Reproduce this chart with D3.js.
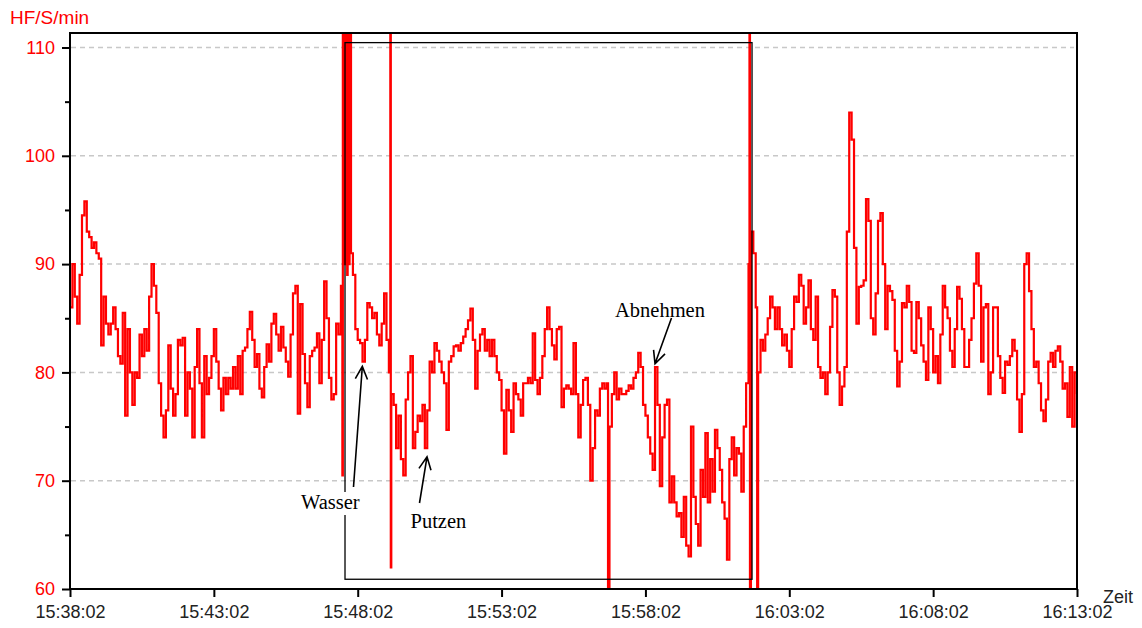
<!DOCTYPE html>
<html>
<head>
<meta charset="utf-8">
<script src="https://cdn.jsdelivr.net/npm/d3@7"></script>
<style>
  body { margin: 0; background: #fff; }
  svg { display: block; }
</style>
</head>
<body>
<svg id="chart" width="1142" height="628"></svg>
<script>
// Heart rate recording, one sample every 5 s starting 15:38:02
const startClock = [15, 38, 2];
const stepSeconds = 5;
const hf = [
  86, 90, 87, 84.5, 89, 94.5, 95.8, 93, 92.5, 91.5,
  92, 91, 90.5, 82.5, 87, 84.5, 83.5, 84.5, 86, 84,
  81.5, 80.8, 85.5, 76, 84, 80, 77, 80, 79.5, 83.5,
  81.5, 84, 82, 87, 90, 88, 85.5, 79, 76, 74,
  76.5, 82.5, 78.5, 76, 78, 83, 82.5, 83.2, 76, 80,
  78.5, 74, 80.5, 84, 79, 74, 81.5, 78, 79.5, 81.5,
  84, 81, 78.5, 76.5, 79.5, 78, 79.5, 78.5, 80.5, 78.5,
  81.5, 78, 82, 82.3, 84, 85.6, 83, 80.5, 81.7, 78.5,
  77.7, 80.5, 82.6, 81, 84.5, 85.4, 83.5, 82, 84.2, 82.3,
  81, 79.6, 83.5, 87.3, 88, 76.2, 86.3, 81.7, 79, 76.8,
  81.5, 82, 82.3, 83.6, 79, 83, 88.4, 85, 79.5, 77.5,
  78, 84.5, 83.5, 88, 90, 150, 91, 150, 89, 84,
  83, 82.7, 81, 83, 86.4, 86, 85, 85.5, 83.5, 82.5,
  84.5, 87.3, 83, 80, 78, 77, 73, 76, 72, 70.5,
  77.5, 80, 81.5, 73, 74.5, 76, 75.5, 77, 73, 76.5,
  81, 80, 82.7, 82, 81, 80, 79, 74.7, 81, 81.5,
  82.4, 82.5, 82, 82.7, 83.3, 84, 84.8, 85.9, 83, 78.5,
  82, 83.5, 84, 82, 83, 81.5, 83, 81.5, 80, 79.3,
  76.5, 72.5, 78.4, 76.5, 74.5, 79, 78, 77.5, 76, 79,
  79, 79.5, 79, 83.6, 79.3, 78, 79.5, 81.5, 84, 86,
  84, 82.5, 81.2, 84, 84.2, 76.8, 78.5, 78.8, 78.5, 78,
  82.7, 78, 74, 77, 79.3, 79.5, 77, 70, 73, 76.5,
  76, 78.5, 79, 78.5, 79, 75, 78, 80, 77.5, 78.5,
  78, 78, 78.3, 78.8, 78.5, 79.5, 80, 81.8, 80.5, 77,
  76, 74, 72.5, 71, 80.5, 77, 69.5, 74, 77, 77.5,
  68, 70.4, 68, 66.7, 67, 64.8, 68.5, 64, 63, 75,
  68.5, 66, 64, 71, 68.5, 74.4, 68, 72, 69, 74.7,
  73, 71, 68, 66.5, 62.7, 72, 74, 70.5, 73, 72.5,
  69, 75, 79, 90, 93, 91, 86, 80, 83, 82,
  83.5, 85, 87, 86, 84, 86, 84, 82.5, 83.5, 82,
  80.5, 84, 87, 86.5, 89, 88, 84.5, 86, 88.5, 84,
  83, 87, 80.5, 79.5, 80, 78, 80, 84.2, 87.6, 87,
  80, 77, 78.7, 80.5, 93, 104, 101.5, 91.5, 84.5, 87.9,
  88, 88.5, 96, 94, 85, 83.5, 87.3, 94, 94.7, 90,
  84, 88, 87.5, 86.7, 82, 78.7, 81, 86.4, 86, 88,
  86.5, 82, 81.8, 86.5, 85, 82.5, 81, 79.3, 86, 84,
  80, 81.5, 79, 83.5, 88, 86, 85, 82, 80.5, 84,
  87.9, 86.8, 84, 80.5, 80.5, 83, 85, 88.2, 91, 88,
  81, 86, 86.3, 78, 80, 86, 86, 81.5, 79.5, 78.1,
  81, 80.7, 81.5, 83, 82, 77.5, 74.5, 78, 90, 91,
  87.5, 84, 80.5, 81, 79, 76.5, 75.5, 77.5, 81, 81.8,
  80.5, 82, 82.4, 81, 78.5, 79, 75.9, 80.5, 75, 80,
  78
];

// Sensor dropouts / artefacts recorded between the regular samples (seconds from start, value)
const artifactSeconds = [568, 569, 571, 572, 573, 574, 576, 577, 578, 579, 581, 582, 583, 584, 586,
                         668, 669, 1122, 1417, 1418, 1432, 1433];
const artifactValues  = [70.5, 150, 150, 91, 150, 90, 92, 150, 89, 150, 150, 90, 150, 92, 91,
                         150, 62, 30, 150, 30, 86, 30];

const yTicks = [60, 70, 80, 90, 100, 110];
const yMinorTicks = [65, 75, 85, 95, 105];
const gridValues = [70, 80, 90, 100, 110];
const xTickLabels = ["15:38:02", "15:43:02", "15:48:02", "15:53:02", "15:58:02", "16:03:02", "16:08:02", "16:13:02"];

// Marked phase (seconds from start, HF range) and the notes with what they point at
const phaseSeconds = [573.5, 1422.3];
const phaseRange = [60.9, 110.45];
const noteTexts = ["Wasser", "Putzen", "Abnehmen"];
const noteSeconds = [609.6, 744.5, 1220];
const noteValues = [80.55, 72.2, 80.8];

const base = new Date(2000, 0, 1, startClock[0], startClock[1], startClock[2]);
const toDate = s => new Date(base.getTime() + s * 1000);
const parseClock = str => {
  const [h, m, s] = str.split(":").map(Number);
  return new Date(2000, 0, 1, h, m, s);
};

const series = hf.map((v, i) => ({ s: i * stepSeconds, v }))
  .concat(artifactSeconds.map((s, i) => ({ s, v: artifactValues[i] })))
  .sort((a, b) => a.s - b.s);

const svg = d3.select("#chart");
const plotL = 70, plotR = 1077, plotT = 33, plotB = 589;

const x = d3.scaleTime()
  .domain([parseClock(xTickLabels[0]), parseClock(xTickLabels[xTickLabels.length - 1])])
  .range([plotL, plotR]);
const y = d3.scaleLinear().domain([60, 110]).range([plotB, 47.5]);

const sans = "'Liberation Sans', Arial, sans-serif";
const serif = "'Liberation Serif', 'Times New Roman', serif";

svg.append("defs").append("clipPath").attr("id", "plot")
  .append("rect").attr("x", plotL).attr("y", plotT).attr("width", plotR - plotL).attr("height", plotB - plotT);

// horizontal dashed grid
svg.append("g").selectAll("line").data(gridValues).join("line")
  .attr("x1", plotL + 1).attr("x2", plotR - 3)
  .attr("y1", d => y(d)).attr("y2", d => y(d))
  .attr("stroke", "#c8c8c8").attr("stroke-width", 1.5).attr("stroke-dasharray", "5,4");

// heart-rate trace (held value until the next sample)
svg.append("path")
  .datum(series)
  .attr("clip-path", "url(#plot)")
  .attr("fill", "none")
  .attr("stroke", "#ff0000")
  .attr("stroke-width", 2.2)
  .attr("d", d3.line().curve(d3.curveStepAfter).x(d => x(toDate(d.s))).y(d => y(d.v)));

// phase box
svg.append("rect")
  .attr("x", x(toDate(phaseSeconds[0])))
  .attr("y", y(phaseRange[1]))
  .attr("width", x(toDate(phaseSeconds[1])) - x(toDate(phaseSeconds[0])))
  .attr("height", y(phaseRange[0]) - y(phaseRange[1]))
  .attr("fill", "none").attr("stroke", "#000").attr("stroke-width", 1.3);

// frame
svg.append("rect")
  .attr("x", plotL).attr("y", plotT).attr("width", plotR - plotL).attr("height", plotB - plotT)
  .attr("fill", "none").attr("stroke", "#000").attr("stroke-width", 2);

// y axis
const yAxis = svg.append("g").attr("transform", `translate(${plotL},0)`)
  .call(d3.axisLeft(y).tickValues(yTicks).tickSize(8).tickSizeOuter(0).tickPadding(7).tickFormat(d => d));
yAxis.select(".domain").remove();
yAxis.selectAll("line").attr("stroke", "#000").attr("stroke-width", 2);
yAxis.selectAll("text").attr("fill", "#ff0000").style("font", `18px ${sans}`);

const yMinor = svg.append("g").attr("transform", `translate(${plotL},0)`)
  .call(d3.axisLeft(y).tickValues(yMinorTicks).tickSize(5).tickSizeOuter(0).tickFormat(""));
yMinor.select(".domain").remove();
yMinor.selectAll("line").attr("stroke", "#000").attr("stroke-width", 2);

// x axis
const xAxis = svg.append("g").attr("transform", `translate(0,${plotB})`)
  .call(d3.axisBottom(x).tickValues(xTickLabels.map(parseClock)).tickSize(8).tickSizeOuter(0)
    .tickPadding(8).tickFormat(d3.timeFormat("%H:%M:%S")));
xAxis.select(".domain").remove();
xAxis.selectAll("line").attr("stroke", "#000").attr("stroke-width", 2);
xAxis.selectAll("text").attr("fill", "#222").style("font", `18px ${sans}`);

// axis titles
svg.append("text").attr("x", 10).attr("y", 24).attr("fill", "#ff0000")
  .style("font", `19px ${sans}`).text("HF/S/min");
svg.append("text").attr("x", 1103).attr("y", 603).attr("fill", "#222")
  .style("font", `18px ${sans}`).text("Zeit");

// notes with arrows
const noteLayout = [
  { tx: 301, ty: 509, bx: 353.5, by: 487 },
  { tx: 410.5, ty: 528, bx: 419.5, by: 503 },
  { tx: 615, ty: 317, bx: 671.5, by: 318 }
];
const notes = svg.append("g");
noteTexts.forEach((t, i) => {
  const L = noteLayout[i];
  const label = notes.append("text").attr("x", L.tx).attr("y", L.ty)
    .attr("fill", "#000").style("font", `20.5px ${serif}`).text(t);
  const bb = label.node().getBBox();
  notes.insert("rect", "text").attr("x", bb.x - 2).attr("y", bb.y + 1)
    .attr("width", bb.width + 4).attr("height", bb.height + 1).attr("fill", "#fff");
  const tipX = x(toDate(noteSeconds[i])), tipY = y(noteValues[i]);
  const ang = Math.atan2(tipY - L.by, tipX - L.bx);
  const head = 14, spread = 0.45;
  notes.append("path")
    .attr("d", `M${L.bx},${L.by}L${tipX},${tipY}` +
      `M${tipX - head * Math.cos(ang - spread)},${tipY - head * Math.sin(ang - spread)}` +
      `L${tipX},${tipY}` +
      `L${tipX - head * Math.cos(ang + spread)},${tipY - head * Math.sin(ang + spread)}`)
    .attr("fill", "none").attr("stroke", "#000").attr("stroke-width", 1.6);
});
</script>
</body>
</html>
